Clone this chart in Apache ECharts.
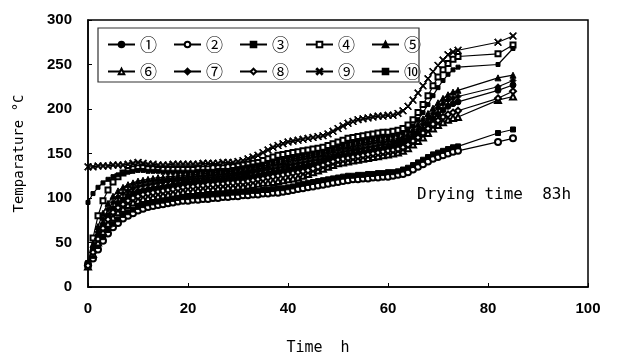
<!DOCTYPE html>
<html>
<head>
<meta charset="utf-8">
<style>
  html, body { margin: 0; padding: 0; background: #fff; }
  #chart { width: 621px; height: 354px; }
</style>
<script src="https://cdn.jsdelivr.net/npm/echarts@6/dist/echarts.min.js"></script>
</head>
<body>
<div id="chart"></div>
<script>
// measuring times (h)
var hours = [
  0, 1, 2, 3, 4, 5, 6, 7, 8, 9,
  10, 11, 12, 13, 14, 15, 16, 17, 18, 19,
  20, 21, 22, 23, 24, 25, 26, 27, 28, 29,
  30, 31, 32, 33, 34, 35, 36, 37, 38, 39,
  40, 41, 42, 43, 44, 45, 46, 47, 48, 49,
  50, 51, 52, 53, 54, 55, 56, 57, 58, 59,
  60, 61, 62, 63, 64, 65, 66, 67, 68, 69,
  70, 71, 72, 73, 74, 82, 85
];

var legendLabels = ["①", "②", "③", "④", "⑤", "⑥", "⑦", "⑧", "⑨", "⑩"];

// temperatures (°C) for each probe
var probe1 = [
  24, 41, 57, 70, 80, 88, 94, 98, 102, 105,
  107, 108, 109, 110, 111, 112, 113, 114, 115, 116,
  117, 117, 118, 118, 119, 119, 120, 120, 121, 121,
  122, 123, 124, 124, 125, 126, 127, 128, 129, 130,
  132, 133, 134, 135, 136, 137, 138, 140, 142, 144,
  146, 147, 148, 149, 150, 151, 152, 153, 154, 155,
  156, 157, 158, 160, 163, 167, 172, 177, 183, 189,
  194, 199, 203, 206, 208, 221, 227
];
var probe2 = [
  25, 32, 42, 52, 60, 67, 72, 77, 80, 83,
  86, 88, 90, 91, 92, 93, 94, 95, 96, 97,
  97, 98, 98, 99, 99, 100, 100, 101, 101, 102,
  102, 103, 103, 104, 104, 105, 105, 106, 106, 107,
  108, 109, 110, 111, 112, 113, 114, 115, 116, 117,
  118, 119, 120, 121, 121, 122, 122, 123, 123, 124,
  124, 125, 126, 127, 129, 132, 135, 138, 141, 144,
  146, 148, 150, 152, 153, 163, 167
];
var probe3 = [
  27, 35, 46, 56, 64, 71, 76, 81, 84, 87,
  90, 92, 94, 95, 96, 97, 98, 99, 100, 101,
  101, 102, 102, 103, 103, 104, 104, 105, 105, 106,
  106, 107, 107, 108, 108, 109, 109, 110, 111, 111,
  112, 113, 115, 116, 117, 118, 119, 120, 121, 122,
  123, 124, 125, 125, 126, 126, 127, 127, 128, 128,
  129, 129, 130, 132, 134, 137, 140, 143, 146, 149,
  151, 153, 155, 157, 158, 173, 177
];
var probe4 = [
  25, 55, 80, 97, 109, 118, 124, 128, 131, 133,
  134, 134, 133, 133, 132, 132, 132, 132, 132, 132,
  132, 132, 133, 133, 133, 134, 134, 134, 135, 135,
  136, 137, 138, 139, 140, 142, 144, 146, 148, 149,
  150, 151, 152, 153, 154, 155, 156, 157, 159, 161,
  163, 165, 167, 168, 169, 170, 171, 172, 173, 174,
  174, 175, 176, 178, 182, 188, 196, 205, 215, 226,
  236, 244, 251, 256, 259, 262, 272
];
var probe5 = [
  25, 48, 68, 83, 94, 102, 108, 112, 115, 117,
  119, 120, 121, 122, 123, 123, 124, 124, 125, 125,
  126, 126, 127, 127, 128, 128, 129, 129, 130, 130,
  131, 132, 133, 134, 135, 136, 137, 139, 140, 141,
  143, 144, 145, 146, 147, 148, 149, 150, 152, 154,
  156, 158, 159, 160, 161, 162, 163, 164, 165, 165,
  166, 166, 167, 169, 172, 177, 183, 189, 195, 201,
  207, 212, 216, 219, 221, 235, 238
];
var probe6 = [
  23, 37, 50, 62, 71, 78, 84, 88, 92, 95,
  97, 99, 100, 101, 102, 103, 104, 105, 106, 107,
  108, 108, 109, 109, 110, 110, 111, 111, 112, 112,
  113, 113, 114, 115, 116, 117, 117, 118, 119, 120,
  121, 122, 123, 125, 127, 129, 131, 133, 135, 137,
  139, 140, 141, 142, 143, 144, 145, 146, 147, 148,
  149, 150, 151, 153, 156, 160, 164, 168, 173, 178,
  182, 185, 188, 190, 191, 210, 214
];
var probe7 = [
  24, 44, 62, 76, 87, 95, 101, 105, 108, 111,
  113, 114, 115, 116, 117, 118, 119, 119, 120, 120,
  121, 121, 122, 122, 123, 123, 124, 124, 125, 125,
  126, 127, 128, 129, 130, 131, 132, 133, 134, 135,
  137, 138, 139, 140, 141, 142, 143, 144, 146, 148,
  150, 152, 153, 154, 155, 156, 157, 158, 159, 160,
  160, 161, 162, 164, 167, 172, 177, 183, 189, 195,
  201, 206, 210, 212, 214, 225, 232
];
var probe8 = [
  24, 39, 54, 66, 76, 84, 89, 93, 97, 100,
  102, 104, 105, 106, 107, 108, 109, 110, 111, 112,
  113, 113, 114, 114, 115, 115, 116, 116, 117, 117,
  118, 118, 119, 120, 121, 122, 123, 124, 125, 126,
  127, 128, 129, 130, 131, 133, 135, 137, 139, 141,
  143, 144, 145, 146, 147, 148, 149, 150, 151, 152,
  153, 154, 155, 157, 160, 164, 168, 173, 178, 183,
  187, 191, 194, 196, 198, 212, 220
];
var probe9 = [
  135, 135, 136, 136, 136, 137, 137, 137, 138, 139,
  140, 139, 138, 138, 137, 137, 137, 138, 138, 138,
  138, 138, 138, 139, 139, 139, 139, 140, 140, 140,
  141, 142, 144, 146, 148, 151, 154, 157, 159, 161,
  163, 164, 165, 166, 167, 168, 169, 170, 172, 175,
  178, 181, 184, 186, 188, 189, 190, 191, 192, 192,
  193, 193, 195, 198, 203, 210, 218, 226, 234, 242,
  249, 255, 261, 264, 266, 275, 282
];
var probe10 = [
  95, 105, 112, 117, 121, 124, 126, 128, 129, 130,
  131, 131, 130, 130, 130, 129, 129, 129, 129, 129,
  129, 129, 130, 130, 130, 130, 131, 131, 131, 132,
  133, 134, 135, 136, 137, 138, 140, 141, 143, 144,
  145, 146, 147, 148, 149, 150, 151, 152, 154, 156,
  158, 160, 162, 163, 164, 165, 166, 167, 168, 169,
  169, 170, 171, 173, 176, 181, 188, 196, 205, 215,
  224, 232, 239, 244, 247, 250, 268
];

var probes = [probe1, probe2, probe3, probe4, probe5, probe6, probe7, probe8, probe9, probe10];

var crossPath = "path://M0,1 L1,0 L5,4 L9,0 L10,1 L6,5 L10,9 L9,10 L5,6 L1,10 L0,9 L4,5 Z";
var symbols = ["circle", "emptyCircle", "rect", "emptyRect", "triangle",
  "emptyTriangle", "diamond", "emptyDiamond", crossPath, "rect"];
var sizes = [6, 6, 5, 5, 6, 6, 6, 6, 7, 4];

var chart = echarts.init(document.getElementById("chart"));

var series = probes.map(function (vals, i) {
  return {
    name: legendLabels[i],
    type: "line",
    data: hours.map(function (h, k) { return [h, vals[k]]; }),
    symbol: symbols[i],
    symbolSize: sizes[i],
    showAllSymbol: true,
    z: i === 8 ? 3 : 2,
    lineStyle: { color: "#000", width: 1.2 },
    itemStyle: { color: "#000", borderColor: "#000", borderWidth: 1 }
  };
});

var legendText = {
  color: "#000",
  fontFamily: "Noto Sans CJK JP",
  fontSize: 17,
  lineHeight: 14
};

var option = {
  backgroundColor: "#fff",
  animation: false,
  grid: {
    left: 88, right: 33, top: 20, bottom: 67,
    outerBoundsMode: "none",
    show: true, borderColor: "#000", borderWidth: 1.5
  },
  legend: [
    {
      data: legendLabels.slice(0, 5),
      left: 107, top: 36, padding: 0,
      itemWidth: 27, itemHeight: 7, itemGap: 16,
      textStyle: legendText
    },
    {
      data: legendLabels.slice(5),
      left: 107, top: 63, padding: 0,
      itemWidth: 27, itemHeight: 7, itemGap: 16,
      textStyle: legendText
    }
  ],
  graphic: [
    {
      type: "rect",
      shape: { x: 98, y: 28, width: 321, height: 54 },
      style: { fill: "none", stroke: "#333", lineWidth: 1.2 },
      z: 100
    },
    {
      type: "text",
      left: 417, top: 187,
      style: {
        text: "Drying time  83h",
        fill: "#000",
        font: "16px 'DejaVu Sans Mono'"
      }
    }
  ],
  xAxis: {
    type: "value",
    min: 0, max: 100, interval: 20,
    name: "Time  h",
    nameLocation: "middle",
    nameGap: 54,
    nameTextStyle: {
      color: "#000", fontFamily: "DejaVu Sans Mono", fontSize: 15,
      padding: [0, 40, 0, 0]
    },
    splitLine: { show: false },
    axisLine: { lineStyle: { color: "#000", width: 1.5 } },
    axisTick: { inside: true, length: 4, lineStyle: { color: "#000" } },
    axisLabel: {
      color: "#000", fontWeight: "bold", fontSize: 15,
      fontFamily: "Liberation Sans", margin: 14
    }
  },
  yAxis: {
    type: "value",
    min: 0, max: 300, interval: 50,
    name: "Temparature °C",
    nameLocation: "middle",
    nameRotate: 90,
    nameGap: 62,
    nameTextStyle: { color: "#000", fontFamily: "DejaVu Sans Mono", fontSize: 14 },
    splitLine: { show: false },
    axisLine: { show: true, lineStyle: { color: "#000", width: 1.5 } },
    axisTick: { show: true, inside: true, length: 4, lineStyle: { color: "#000" } },
    axisLabel: {
      color: "#000", fontWeight: "bold", fontSize: 15,
      fontFamily: "Liberation Sans", margin: 16
    }
  },
  series: series
};

chart.setOption(option);
</script>
</body>
</html>
